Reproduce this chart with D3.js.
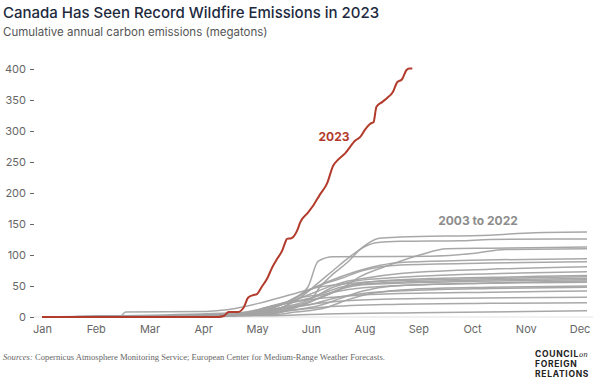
<!DOCTYPE html>
<html>
<head>
<meta charset="utf-8">
<script src="https://cdn.jsdelivr.net/npm/d3@7"></script>
<style>
  html, body { margin: 0; padding: 0; background: #fff; }
  svg { display: block; }
</style>
</head>
<body>
<svg id="chart" width="600" height="390"></svg>
<script>
// ---------- DATA ----------
const title = "Canada Has Seen Record Wildfire Emissions in 2023";
const subtitle = "Cumulative annual carbon emissions (megatons)";
const monthLabels = ["Jan","Feb","Mar","Apr","May","Jun","Aug","Sep","Oct","Nov","Dec"];
const monthTickDays = [0,36,72,108,144,180,216,252,288,324,360];
const yTicks = [0,50,100,150,200,250,300,350,400];

// 2023 cumulative emissions: day of year and megatons
const days2023   = [0, 60, 118, 122, 125, 131, 135, 138, 141, 144, 147, 151, 154, 157, 161, 163, 164, 167, 171, 173, 178, 182, 186, 191, 195, 198, 203, 210, 213, 216, 220, 222, 224, 228, 231, 235, 238, 241, 244, 246, 248];
const values2023 = [0, 0, 0, 2, 8, 8, 15, 31, 35, 37, 48, 63, 79, 92, 108, 121, 126, 127, 140, 153, 168, 181, 197, 216, 244, 253, 264, 285, 290, 301, 312, 314, 339, 347, 353, 363, 379, 383, 398, 401, 401];

// 2003 to 2022 cumulative emissions, [day of year, megatons]
const greySeries = [
  [[0,0],[120,1],[140,5],[160,15],[181,31],[186,48],[193,65],[204,87],[215,113],[226,127],[240,129],[300,132],[330,136],[365,137]],
  [[0,0],[130,3],[160,15],[175,35],[185,55],[195,75],[205,95],[215,112],[225,120],[240,122],[280,123],[300,125],[365,126]],
  [[0,0],[140,4],[165,15],[185,30],[200,45],[213,65],[233,84],[253,100],[271,110],[300,111],[365,113]],
  [[0,0],[130,3],[150,12],[165,25],[178,48],[185,90],[195,97],[260,98],[290,103],[310,109],[365,110]],
  [[0,0],[135,4],[160,20],[180,45],[200,65],[220,80],[240,88],[280,91],[365,94]],
  [[0,0],[140,5],[165,25],[185,50],[200,62],[215,75],[240,84],[300,87],[365,89]],
  [[0,0],[140,8],[155,18],[170,28],[185,42],[200,55],[215,62],[240,70],[300,77],[365,81]],
  [[0,0],[135,5],[150,15],[165,22],[180,30],[195,48],[210,58],[240,64],[320,71],[365,73]],
  [[0,0],[140,3],[160,10],[175,20],[190,35],[205,50],[225,58],[260,62],[320,65],[365,67]],
  [[0,0],[52,0],[56,8],[110,9],[125,12],[145,22],[165,35],[185,48],[210,55],[260,60],[320,63],[365,65]],
  [[0,0],[140,4],[160,14],[172,30],[185,36],[200,48],[220,54],[280,59],[365,62]],
  [[0,0],[145,3],[170,15],[185,30],[200,45],[215,52],[260,56],[365,60]],
  [[0,0],[145,3],[165,10],[185,18],[200,30],[215,42],[235,50],[300,55],[365,58]],
  [[0,0],[125,4],[145,12],[160,22],[175,28],[195,40],[215,47],[270,53],[365,56]],
  [[0,0],[150,3],[170,8],[190,15],[205,28],[220,38],[250,45],[300,48],[365,50]],
  [[0,0],[140,5],[160,15],[180,20],[195,30],[215,38],[250,43],[300,46],[365,48]],
  [[0,0],[130,4],[150,15],[170,25],[195,32],[230,37],[300,40],[365,42]],
  [[0,0],[135,3],[160,12],[185,22],[210,27],[260,30],[365,32]],
  [[0,0],[140,3],[165,10],[190,16],[230,20],[300,22],[365,23]],
  [[0,0],[150,2],[190,5],[250,7],[365,10]]
];

const label2023 = "2023";
const labelGrey = "2003 to 2022";
const sourceLead = "Sources:";
const sourceText = " Copernicus Atmosphere Monitoring Service; European Center for Medium-Range Weather Forecasts.";

// ---------- DRAW ----------
const svg = d3.select("#chart");
const sans = "Inter, 'Noto Sans', 'DejaVu Sans', sans-serif";

const x = d3.scaleLinear().domain([0, 365]).range([42, 587]);
const y = d3.scaleLinear().domain([0, 400]).range([317, 69]);

svg.append("text").attr("x", 3).attr("y", 18)
  .attr("font-family", sans).attr("font-size", 15).attr("font-weight", 500)
  .attr("fill", "#1d2a3e").text(title);
svg.append("text").attr("x", 3).attr("y", 36)
  .attr("font-family", sans).attr("font-size", 11.5)
  .attr("fill", "#555").text(subtitle);

// baseline
svg.append("line").attr("x1", 34).attr("x2", 593)
  .attr("y1", y(0)).attr("y2", y(0))
  .attr("stroke", "#e3e3e3").attr("stroke-width", 1.2);

// y axis
const yAxis = svg.append("g").attr("transform", "translate(34,0)")
  .call(d3.axisLeft(y).tickValues(yTicks).tickSize(4).tickPadding(4));
yAxis.select(".domain").remove();
yAxis.selectAll("line").attr("stroke", "#666");
yAxis.selectAll("text").attr("font-family", sans).attr("font-size", 11).attr("fill", "#666");

// x axis
const xAxis = svg.append("g").attr("transform", `translate(0,${y(0)})`)
  .call(d3.axisBottom(x).tickValues(monthTickDays)
    .tickFormat((d, i) => monthLabels[i]).tickSize(0).tickPadding(8));
xAxis.select(".domain").remove();
xAxis.selectAll("text").attr("font-family", sans).attr("font-size", 11).attr("fill", "#666");

const line = d3.line().x(d => x(d[0])).y(d => y(d[1])).curve(d3.curveMonotoneX);

svg.append("g").selectAll("path").data(greySeries).join("path")
  .attr("d", line).attr("fill", "none")
  .attr("stroke", "#a3a3a3").attr("stroke-width", 1.5).attr("stroke-opacity", 0.95);

const data2023 = days2023.map((d, i) => [d, values2023[i]]);
svg.append("path").datum(data2023).attr("d", line)
  .attr("fill", "none").attr("stroke", "#b23b2b").attr("stroke-width", 2);

svg.append("text").attr("x", 334).attr("y", 141).attr("text-anchor", "middle")
  .attr("font-family", sans).attr("font-size", 12).attr("font-weight", 700)
  .attr("fill", "#b23b2b").text(label2023);
svg.append("text").attr("x", 478).attr("y", 225).attr("text-anchor", "middle")
  .attr("font-family", sans).attr("font-size", 12).attr("font-weight", 700)
  .attr("fill", "#8c8c8c").text(labelGrey);

// sources
const src = svg.append("text").attr("x", 3).attr("y", 360)
  .attr("font-family", "'Liberation Serif', 'DejaVu Serif', serif").attr("font-size", 8.6)
  .attr("fill", "#666");
src.append("tspan").attr("font-style", "italic").text(sourceLead);
src.append("tspan").text(sourceText);

// logo
const logo = svg.append("g").attr("font-family", sans).attr("font-weight", 700)
  .attr("font-size", 8.5).attr("fill", "#222").attr("letter-spacing", 0.7);
const l1 = logo.append("text").attr("x", 535).attr("y", 357);
l1.append("tspan").text("COUNCIL");
l1.append("tspan").attr("font-style", "italic").attr("font-weight", 400)
  .attr("font-family", "'DejaVu Serif', serif").attr("font-size", 7).attr("letter-spacing", 0).text("on");
logo.append("text").attr("x", 535).attr("y", 367).text("FOREIGN");
logo.append("text").attr("x", 535).attr("y", 377).text("RELATIONS");
</script>
</body>
</html>
